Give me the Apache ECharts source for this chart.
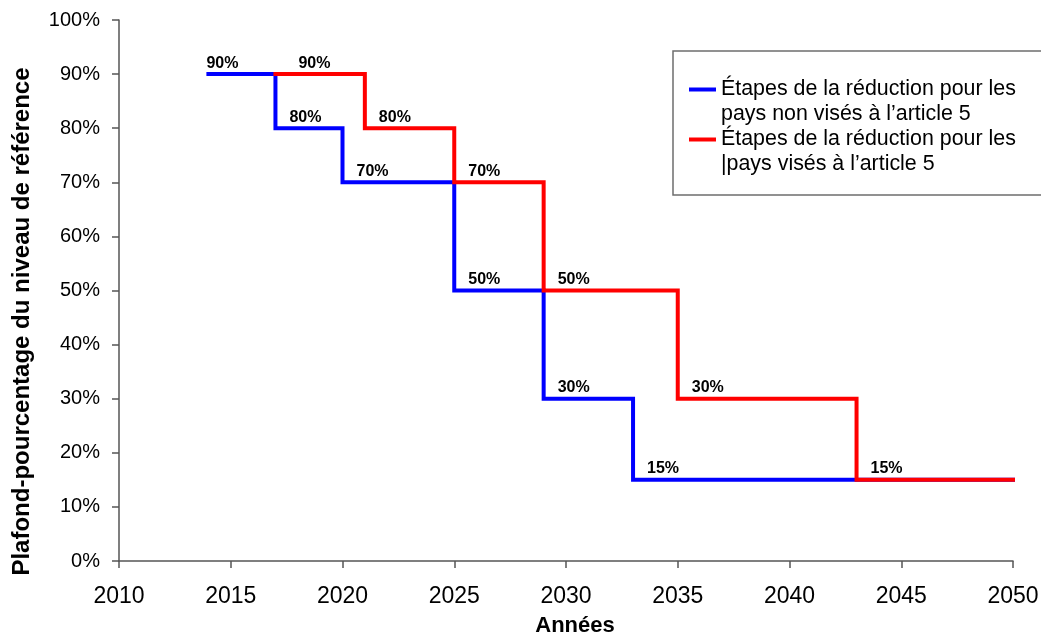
<!DOCTYPE html>
<html lang="fr">
<head>
    <meta charset="UTF-8">
    <title>Étapes de la réduction</title>
    <script src="https://cdn.jsdelivr.net/npm/echarts@6/dist/echarts.min.js"></script>
</head>
<body style="height: 100%; margin: 0">
<div id="chart" style="width: 1041px; height: 635px"></div>

<script>
    // years where each step starts, and the cap (% of baseline) from then on
    let years_non5 = [2014, 2017, 2020, 2025, 2029, 2033, 2050];
    let caps_non5  = [90, 80, 70, 50, 30, 15, 15];
    let years_art5 = [2017, 2021, 2025, 2029, 2035, 2043, 2050];
    let caps_art5  = [90, 80, 70, 50, 30, 15, 15];

    let name_non5 = 'Étapes de la réduction pour les\npays non visés à l’article 5';
    let name_art5 = 'Étapes de la réduction pour les\n|pays visés à l’article 5';

    let font = 'Liberation Sans, Arial, sans-serif';

    // pair years with values, label every step except the closing point
    function build(years, caps, firstOffset)
    {
        let out = [];
        for (let i = 0; i < years.length; i++)
        {
            let item = {value: [years[i], caps[i]]};
            if (i === years.length - 1) {
                item.label = {show: false};
            } else if (i === 0) {
                item.label = {offset: [firstOffset, 0]};
            }
            out.push(item);
        }
        return out;
    }

    function stepSeries(name, color, data)
    {
        return {
            name: name,
            type: 'line',
            step: 'end',
            data: data,
            showSymbol: true,
            symbol: 'circle',
            symbolSize: 0,
            lineStyle: {color: color, width: 4, join: 'miter', cap: 'square'},
            itemStyle: {color: color},
            label: {
                show: true,
                position: 'top',
                distance: 3,
                offset: [30, 0],
                formatter: function (p) { return p.value[1] + '%'; },
                fontFamily: font,
                fontWeight: 'bold',
                fontSize: 16,
                color: '#000'
            },
            emphasis: {disabled: true}
        };
    }

    let myChart = echarts.init(document.getElementById('chart'));
    let option = {
        animation: false,
        textStyle: {fontFamily: font},
        grid: {left: 119, right: 28, top: 20, bottom: 74, outerBoundsMode: 'none', containLabel: false},
        legend: {
            left: 673,
            top: 51,
            orient: 'vertical',
            icon: 'rect',
            itemWidth: 27,
            itemHeight: 4,
            itemGap: -25,
            padding: [1, 34, 18, 16],
            borderColor: '#6e6e6e',
            borderWidth: 1.5,
            backgroundColor: '#fff',
            data: [name_non5, name_art5],
            // empty first line keeps the icon level with the first text line
            formatter: function (n) { return '\n' + n; },
            textStyle: {
                fontFamily: font,
                fontSize: 21.4,
                lineHeight: 25,
                color: '#000'
            }
        },
        xAxis: {
            type: 'value',
            min: 2010,
            max: 2050,
            interval: 5,
            name: 'Années',
            nameLocation: 'middle',
            nameGap: 54,
            nameTextStyle: {fontFamily: font, fontWeight: 'bold', fontSize: 22, color: '#000', padding: [0, 0, 0, 18]},
            axisLine: {lineStyle: {color: '#555', width: 1.5}},
            axisTick: {length: 7, lineStyle: {color: '#555', width: 1.5}},
            axisLabel: {fontFamily: font, fontSize: 23, color: '#000', margin: 24,
                formatter: function (v) { return String(v); }},
            splitLine: {show: false}
        },
        yAxis: {
            type: 'value',
            min: 0,
            max: 100,
            interval: 10,
            name: 'Plafond-pourcentage du niveau de référence',
            nameLocation: 'middle',
            nameGap: 85,
            nameTextStyle: {fontFamily: font, fontWeight: 'bold', fontSize: 24, color: '#000', padding: [0, 62, 0, 0]},
            axisLine: {show: true, lineStyle: {color: '#555', width: 1.5}},
            axisTick: {show: true, length: 7, lineStyle: {color: '#555', width: 1.5}},
            axisLabel: {fontFamily: font, fontSize: 20, color: '#000', margin: 19, formatter: '{value}%'},
            splitLine: {show: false}
        },
        series: [
            stepSeries(name_non5, '#0000ff', build(years_non5, caps_non5, 14)),
            stepSeries(name_art5, '#ff0000', build(years_art5, caps_art5, 39))
        ]
    };
    myChart.setOption(option);
</script>
</body>
</html>
